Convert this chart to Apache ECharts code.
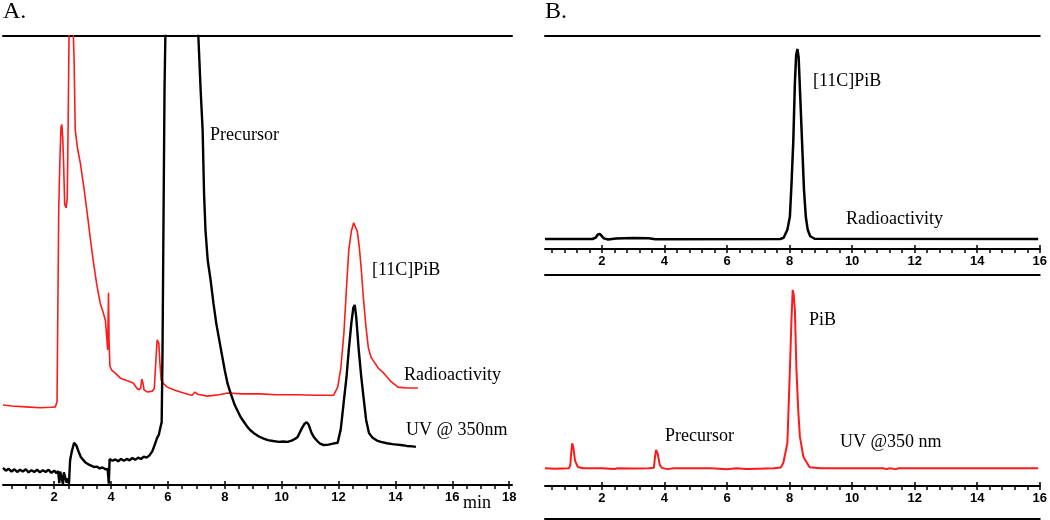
<!DOCTYPE html>
<html><head><meta charset="utf-8">
<script src="https://cdn.jsdelivr.net/npm/echarts@6/dist/echarts.min.js"></script>
<style>html,body{margin:0;padding:0;background:#fff}#c{width:1050px;height:520px}</style>
</head><body><div id="c"></div>
<script>
// ---- Panel A: time (min) vs signal (% of full scale) ----
const radioA = [[0.20,17.8],[0.5,17.6],[1.0,17.4],[1.5,17.2],[1.9,17.3],[2.04,17.4],[2.10,18.5],[2.13,40],[2.16,61.2],[2.20,72],[2.24,79.7],[2.27,80.3],[2.30,77.5],[2.33,72],[2.37,62.5],[2.42,61.7],[2.46,64],[2.49,80],[2.53,105],[2.65,105],[2.70,95],[2.74,79.1],[2.82,75],[2.92,71.7],[3.05,66],[3.16,60.6],[3.27,55],[3.37,50.1],[3.50,44.5],[3.62,40.5],[3.72,38.5],[3.80,36.7],[3.86,32],[3.88,30.1],[3.91,42.8],[3.93,32],[3.96,26.5],[4.02,25.6],[4.15,24.9],[4.33,23.8],[4.57,23.2],[4.78,22.7],[4.88,21.8],[4.96,21.2],[5.04,21.5],[5.08,23.6],[5.12,22.8],[5.16,21.2],[5.28,20.7],[5.45,20.9],[5.52,21.5],[5.58,28],[5.62,32.3],[5.68,31.6],[5.72,27],[5.76,23.4],[5.85,22.5],[5.98,21.8],[6.20,21.2],[6.44,20.7],[6.70,20.2],[6.85,20.0],[6.95,20.7],[7.05,20.2],[7.39,19.8],[7.8,20.1],[8.10,20.5],[8.6,20.3],[9.26,20.3],[9.8,20.1],[10.5,20.1],[11.2,20.0],[11.83,20.0],[11.97,21.8],[12.08,26],[12.19,33.9],[12.28,44],[12.36,52.3],[12.45,56.5],[12.53,58.4],[12.60,58.4],[12.66,56.5],[12.73,53],[12.80,48],[12.87,42],[12.96,35.5],[13.05,30.5],[13.14,28.5],[13.21,27.8],[13.40,26],[13.59,24.9],[13.85,23],[14.09,21.8],[14.40,21.6],[14.79,21.6]];
const uvA = [[0.20,3.8],[0.30,3.2],[0.40,3.6],[0.50,3.0],[0.60,3.5],[0.70,2.9],[0.80,3.4],[0.90,3.0],[1.00,3.5],[1.10,2.8],[1.20,3.3],[1.30,2.9],[1.40,3.4],[1.50,2.8],[1.60,3.3],[1.70,2.9],[1.80,3.4],[1.90,2.7],[2.00,3.2],[2.08,2.6],[2.14,3.1],[2.18,0.4],[2.21,3.0],[2.27,2.6],[2.31,0.2],[2.34,2.8],[2.40,2.4],[2.44,0.5],[2.48,1.5],[2.52,0.3],[2.56,5.5],[2.62,7.5],[2.70,9.4],[2.78,8.8],[2.86,7.4],[2.94,6.2],[3.02,5.6],[3.10,5.0],[3.20,4.6],[3.30,4.3],[3.40,4.0],[3.50,4.1],[3.60,3.7],[3.70,3.9],[3.80,3.5],[3.88,3.6],[3.92,0.3],[3.95,5.8],[4.05,5.4],[4.15,5.7],[4.25,5.3],[4.35,5.8],[4.45,5.4],[4.55,5.8],[4.65,5.5],[4.75,6.0],[4.85,5.6],[4.95,6.1],[5.05,5.8],[5.15,6.3],[5.25,6.1],[5.35,6.6],[5.45,7.5],[5.55,9.2],[5.62,10.5],[5.68,11.2],[5.74,12.9],[5.78,14],[5.81,30],[5.84,55.2],[5.88,88],[5.91,100],[6.2,140],[6.8,140],[7.07,100],[7.15,88],[7.22,79.1],[7.27,65],[7.32,56.8],[7.40,50],[7.50,45.7],[7.60,40.5],[7.70,36],[7.85,30.7],[8.00,25.5],[8.10,22.5],[8.20,20.5],[8.35,17.8],[8.56,15.1],[8.70,13.8],[8.80,12.9],[8.90,12.2],[9.01,11.6],[9.2,10.8],[9.35,10.4],[9.51,10.0],[9.7,9.8],[9.9,9.6],[10.05,9.7],[10.21,9.6],[10.35,9.9],[10.48,10.3],[10.56,10.7],[10.70,12.5],[10.80,13.6],[10.88,14.0],[10.95,13.4],[11.05,11.6],[11.13,10.7],[11.25,9.8],[11.35,9.2],[11.48,8.9],[11.65,9.0],[11.80,9.2],[11.97,9.4],[12.08,12.5],[12.19,18.9],[12.28,24],[12.36,30.1],[12.45,36],[12.52,39.5],[12.57,40.1],[12.62,37.5],[12.71,30.1],[12.80,24],[12.89,18.9],[12.97,14.5],[13.07,11.6],[13.20,10.5],[13.35,9.9],[13.49,9.6],[13.7,9.3],[13.9,9.1],[14.05,9.0],[14.19,8.9],[14.4,8.7],[14.6,8.6],[14.72,8.5]];
// ---- Panel B ----
const radioB = [[0.18,4.7],[1.70,4.7],[1.80,5.3],[1.87,6.8],[1.94,7.0],[2.00,6.2],[2.06,5.0],[2.20,4.5],[2.45,4.9],[3.00,5.2],[3.50,5.0],[3.71,4.6],[7.70,4.7],[7.81,5.3],[7.93,9],[8.01,15.2],[8.06,30],[8.12,51],[8.17,78],[8.21,91],[8.25,93.9],[8.29,90],[8.34,72],[8.40,50],[8.46,28],[8.52,15],[8.58,9],[8.66,6],[8.80,4.8],[15.95,4.7]];
const uvB = [[0.18,8.4],[0.50,8.2],[0.95,8.4],[0.99,10],[1.02,16],[1.05,20.2],[1.09,18],[1.14,12],[1.23,9],[1.40,8.4],[2.00,8.4],[2.40,8.0],[2.50,8.4],[3.00,8.3],[3.50,8.4],[3.66,8.6],[3.70,14],[3.73,17.1],[3.78,15.5],[3.85,10],[3.92,8.6],[4.10,8.0],[4.30,8.4],[5.50,8.4],[6.00,7.9],[6.30,8.4],[6.60,8.0],[7.00,8.2],[7.50,8.4],[7.72,8.8],[7.80,10.9],[7.93,20.4],[8.01,55],[8.06,78.7],[8.10,92.9],[8.13,91],[8.17,83.4],[8.22,55],[8.28,35],[8.33,23.4],[8.44,13.9],[8.64,8.9],[9.00,8.4],[11.00,8.4],[11.10,8.0],[11.20,8.4],[11.40,8.0],[11.50,8.4],[15.95,8.4]];
// tick labels
const labelsA = [2,4,6,8,10,12,14,16,18];
const labelsB = [2,4,6,8,10,12,14,16];
const minorA = []; for (let v = 0.5; v <= 18.001; v += 0.5) minorA.push(+v.toFixed(2));
const minorB = []; for (let v = 0.4; v <= 16.001; v += 0.4) minorB.push(+v.toFixed(2));

const chart = echarts.init(document.getElementById('c'), null, {renderer:'canvas'});
const lineStyleAxis = {color:'#000', width:2};
const labelFont = {color:'#000', fontFamily:'Liberation Sans', fontWeight:'bold', fontSize:13, margin:6, alignMaxLabel:'center', alignMinLabel:'center'};
function axesFor(grid, min, max, minors, majors, extraBottom) {
  const a = [
    {type:'value', gridIndex:grid, position:'bottom', min, max, axisLine:{show:true, lineStyle:lineStyleAxis},
     axisTick:{show:true, customValues:minors, length:4, lineStyle:{color:'#000', width:1.5}},
     axisLabel:{show:false}, splitLine:{show:false}},
    {type:'value', gridIndex:grid, position:'bottom', min, max, axisLine:{show:false},
     axisTick:{show:true, inside:true, customValues:majors, length:4, lineStyle:{color:'#000', width:1.5}},
     axisLabel:Object.assign({show:true, customValues:majors}, labelFont), splitLine:{show:false}},
    {type:'value', gridIndex:grid, position:'top', min, max, axisLine:{show:true, lineStyle:lineStyleAxis},
     axisTick:{show:false}, axisLabel:{show:false}, splitLine:{show:false}}
  ];
  if (extraBottom) a.push({type:'value', gridIndex:grid, position:'bottom', offset:extraBottom, min, max,
     axisLine:{show:true, lineStyle:lineStyleAxis}, axisTick:{show:false}, axisLabel:{show:false}, splitLine:{show:false}});
  return a;
}
const xAxes = [].concat(
  axesFor(0, 0.2, 18.1, minorA, labelsA),
  axesFor(1, 0.18, 16, minorB, labelsB),
  axesFor(2, 0.18, 16, minorB, labelsB, 33)
);
const yAxes = [0,1,2].map(g => ({type:'value', gridIndex:g, min:0, max:100, show:false}));
const serif = '"Liberation Serif", "Times New Roman", serif';
function txt(s, x, y, size) {
  return {type:'text', x, y, style:{text:s, font: (size||18) + 'px ' + serif, fill:'#000', verticalAlign:'middle', align:'left'}};
}
chart.setOption({
  animation:false,
  backgroundColor:'#fff',
  grid:[
    {left:3, top:36, width:509, height:449},
    {left:545, top:36, width:501.5, height:213},
    {left:545, top:275, width:501.5, height:211}
  ],
  xAxis:xAxes,
  yAxis:yAxes,
  series:[
    {type:'line', xAxisIndex:0, yAxisIndex:0, data:radioA, showSymbol:false, clip:true, lineStyle:{color:'#ff1a1a', width:1.6}},
    {type:'line', xAxisIndex:0, yAxisIndex:0, data:uvA, showSymbol:false, clip:true, lineStyle:{color:'#000', width:2.4}},
    {type:'line', xAxisIndex:3, yAxisIndex:1, data:radioB, showSymbol:false, clip:true, lineStyle:{color:'#000', width:2.5}},
    {type:'line', xAxisIndex:6, yAxisIndex:2, data:uvB, showSymbol:false, clip:true, lineStyle:{color:'#ff1a1a', width:2}}
  ],
  graphic:[
    {type:'text', x:3, y:12, style:{text:'A.', font:'24px '+serif, fill:'#000', verticalAlign:'middle'}},
    {type:'text', x:545, y:12, style:{text:'B.', font:'24px '+serif, fill:'#000', verticalAlign:'middle'}},
    txt('Precursor', 210, 135),
    txt('[11C]PiB', 372, 270),
    txt('Radioactivity', 404, 375),
    txt('UV @ 350nm', 406, 430),
    txt('min', 463, 503),
    txt('[11C]PiB', 813, 81),
    txt('Radioactivity', 846, 219),
    txt('PiB', 809, 320),
    txt('Precursor', 665, 436),
    txt('UV @350 nm', 840, 442)
  ]
});
</script></body></html>
